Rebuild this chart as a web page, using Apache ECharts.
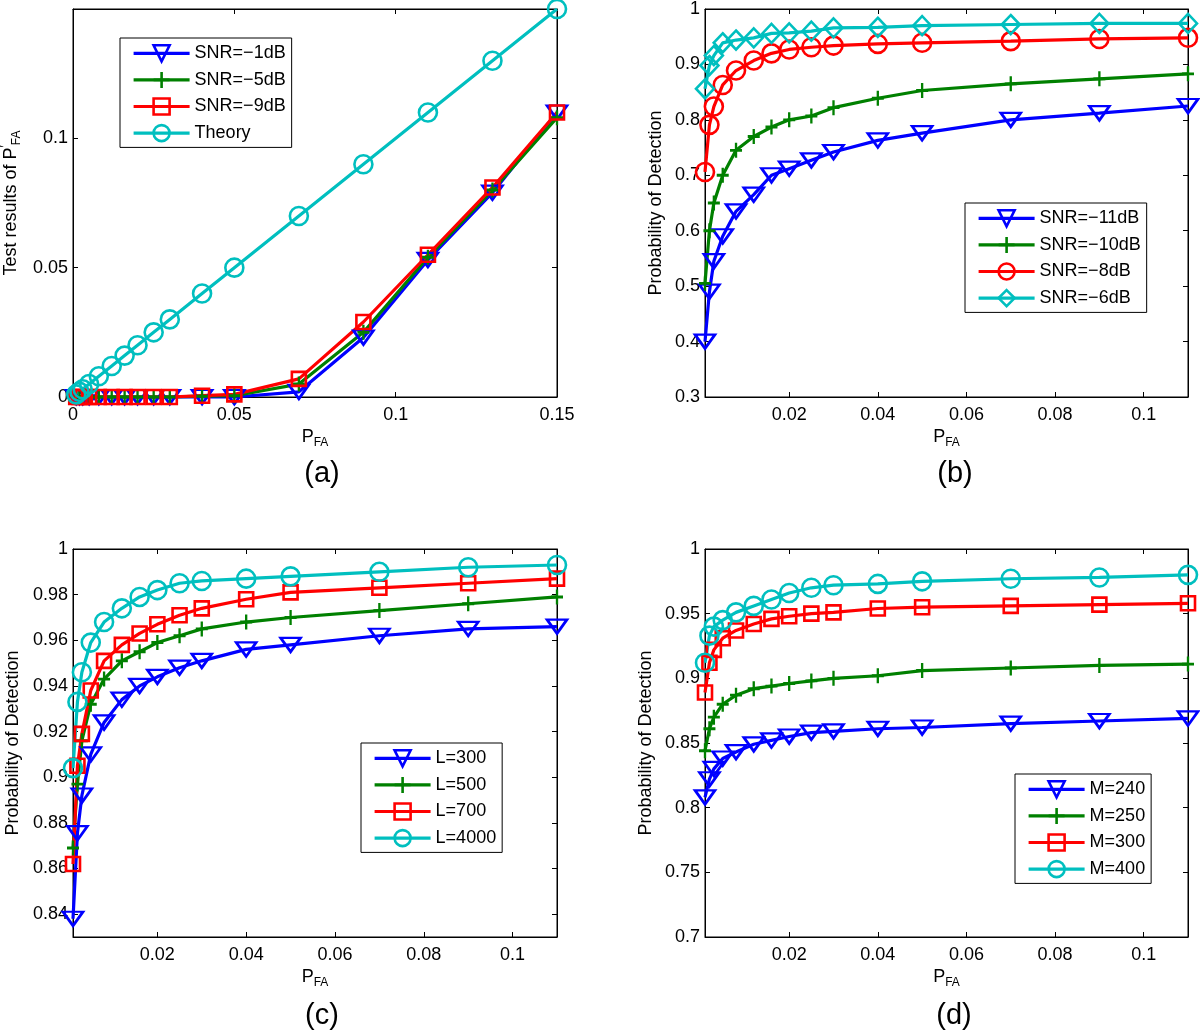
<!DOCTYPE html>
<html>
<head>
<meta charset="utf-8">
<title>PFA / Detection</title>
<script src="https://cdn.jsdelivr.net/npm/echarts@6/dist/echarts.min.js"></script>
<style>
    html, body { margin: 0; padding: 0; background: #fff; }
    #main { width: 1200px; height: 1034px; }
</style>
</head>
<body>
<div id="main"></div>
<script type="text/javascript">
    // 数据
    var pfaA = [0.001, 0.002, 0.003, 0.005, 0.008, 0.012, 0.016, 0.02, 0.025, 0.03, 0.04, 0.05, 0.07, 0.09, 0.11, 0.13, 0.15];
    var snr1A = [0, 0, 0, 0, 0, 0, 0, 0, 0, 0, 0, 0, 0.002, 0.023, 0.053, 0.079, 0.110];
    var snr5A = [0, 0, 0, 0, 0, 0, 0, 0, 0, 0, 0.0003, 0.0005, 0.005, 0.025, 0.054, 0.080, 0.108];
    var snr9A = [0, 0, 0, 0, 0, 0, 0, 0, 0, 0, 0.0005, 0.001, 0.007, 0.029, 0.055, 0.081, 0.110];
    var theoryA = [0.001, 0.002, 0.003, 0.005, 0.008, 0.012, 0.016, 0.02, 0.025, 0.03, 0.04, 0.05, 0.07, 0.09, 0.11, 0.13, 0.15];

    var pfa = [0.001, 0.002, 0.003, 0.005, 0.008, 0.012, 0.016, 0.02, 0.025, 0.03, 0.04, 0.05, 0.07, 0.09, 0.11];

    var snr11B = [0.40, 0.49, 0.545, 0.59, 0.635, 0.665, 0.70, 0.712, 0.727, 0.742, 0.763, 0.776, 0.80, 0.812, 0.825];
    var snr10B = [0.505, 0.60, 0.65, 0.70, 0.745, 0.77, 0.787, 0.80, 0.807, 0.822, 0.839, 0.853, 0.865, 0.874, 0.883];
    var snr8B = [0.706, 0.791, 0.824, 0.863, 0.889, 0.907, 0.92, 0.927, 0.931, 0.934, 0.937, 0.939, 0.942, 0.946, 0.948];
    var snr6B = [0.856, 0.898, 0.916, 0.939, 0.944, 0.948, 0.956, 0.957, 0.960, 0.966, 0.967, 0.970, 0.972, 0.974, 0.974];

    var l300C = [0.838, 0.8755, 0.892, 0.910, 0.924, 0.934, 0.940, 0.944, 0.948, 0.951, 0.956, 0.958, 0.962, 0.965, 0.966];
    var l500C = [0.869, 0.897, 0.916, 0.932, 0.943, 0.951, 0.955, 0.959, 0.962, 0.965, 0.968, 0.970, 0.973, 0.976, 0.979];
    var l700C = [0.862, 0.905, 0.919, 0.938, 0.951, 0.958, 0.963, 0.967, 0.971, 0.974, 0.978, 0.981, 0.983, 0.985, 0.987];
    var l4000C = [0.904, 0.933, 0.946, 0.959, 0.968, 0.974, 0.979, 0.982, 0.985, 0.986, 0.987, 0.988, 0.990, 0.992, 0.993];

    var m240D = [0.808, 0.822, 0.830, 0.838, 0.843, 0.849, 0.852, 0.855, 0.858, 0.859, 0.861, 0.862, 0.865, 0.867, 0.869];
    var m250D = [0.844, 0.861, 0.870, 0.880, 0.887, 0.892, 0.894, 0.896, 0.898, 0.900, 0.902, 0.906, 0.908, 0.910, 0.911];
    var m300D = [0.889, 0.912, 0.922, 0.931, 0.937, 0.942, 0.946, 0.948, 0.950, 0.951, 0.954, 0.955, 0.956, 0.957, 0.958];
    var m400D = [0.912, 0.933, 0.940, 0.945, 0.951, 0.956, 0.961, 0.966, 0.970, 0.972, 0.973, 0.975, 0.977, 0.978, 0.980];

    // 刻度
    var xTicksA = [0, 0.05, 0.1, 0.15];
    var yTicksA = [0, 0.05, 0.1, 0.15];
    var yLabelsA = [0, 0.05, 0.1];
    var xTicks = [0.02, 0.04, 0.06, 0.08, 0.1];
    var yTicksB = [0.3, 0.4, 0.5, 0.6, 0.7, 0.8, 0.9, 1];
    var yTicksC = [0.84, 0.86, 0.88, 0.9, 0.92, 0.94, 0.96, 0.98, 1];
    var yTicksD = [0.7, 0.75, 0.8, 0.85, 0.9, 0.95, 1];

    var FONT = 'Liberation Sans';
    var C_BLUE = '#0000FF', C_GREEN = '#008000', C_RED = '#FF0000', C_CYAN = '#00BFBF';

    var markers = {
        tri: { symbol: 'triangle', symbolRotate: 180, symbolSize: [20, 14] },
        plus: { symbol: 'path://M5,0L5,10M0,5L10,5', symbolSize: [12, 15] },
        square: { symbol: 'rect', symbolSize: 14 },
        circle: { symbol: 'circle', symbolSize: 18 },
        diamond: { symbol: 'diamond', symbolSize: [18, 19] }
    };

    var myChart = echarts.init(document.getElementById('main'));

    function pairs(xs, ys) {
        return xs.map(function (x, i) { return [x, ys[i]]; });
    }

    function line(name, xs, ys, color, mk, gi) {
        var m = markers[mk];
        return {
            name: name,
            type: 'line',
            xAxisIndex: gi * 2,
            yAxisIndex: gi * 2,
            data: pairs(xs, ys),
            symbol: m.symbol,
            symbolSize: m.symbolSize,
            symbolRotate: m.symbolRotate || 0,
            showAllSymbol: true,
            clip: false,
            lineStyle: { color: color, width: 3.2 },
            itemStyle: { color: 'rgba(0,0,0,0)', borderColor: color, borderWidth: 2.6 },
            emphasis: { disabled: true },
            animation: false
        };
    }

    function xAxes(gi, min, max, ticks, labels) {
        var base = {
            type: 'value', gridIndex: gi, min: min, max: max,
            axisLine: { show: true, onZero: false, lineStyle: { color: '#000', width: 1 } },
            axisTick: { show: true, inside: true, length: 5, customValues: ticks, lineStyle: { color: '#000' } },
            splitLine: { show: false }
        };
        var bottom = echarts.util.merge({
            position: 'bottom',
            axisLabel: { customValues: labels, margin: 9, color: '#000', fontSize: 18, fontFamily: FONT },
            name: '{p|P}{s|FA}', nameLocation: 'middle', nameGap: 28,
            nameTextStyle: {
                color: '#000', fontFamily: FONT,
                rich: { p: { fontSize: 18, fontFamily: FONT, color: '#000' }, s: { fontSize: 12, fontFamily: FONT, color: '#000', padding: [12, 0, 0, 0] } }
            }
        }, base, true);
        var top = echarts.util.merge({ position: 'top', axisLabel: { show: false } }, base, true);
        return [bottom, top];
    }

    function yAxes(gi, min, max, ticks, labels, name, gap) {
        var base = {
            type: 'value', gridIndex: gi, min: min, max: max,
            axisLine: { show: true, onZero: false, lineStyle: { color: '#000', width: 1 } },
            axisTick: { show: true, inside: true, length: 5, customValues: ticks, lineStyle: { color: '#000' } },
            splitLine: { show: false }
        };
        var left = echarts.util.merge({
            position: 'left',
            axisLabel: { customValues: labels, margin: 5, color: '#000', fontSize: 18, fontFamily: FONT },
            name: name, nameLocation: 'middle', nameGap: gap, nameRotate: 90,
            nameTextStyle: {
                color: '#000', fontSize: 18, fontFamily: FONT,
                rich: {
                    t: { fontSize: 18, fontFamily: FONT, color: '#000' },
                    sp: { fontSize: 12, fontFamily: FONT, color: '#000', padding: [0, 0, 10, 0] },
                    s: { fontSize: 12, fontFamily: FONT, color: '#000', padding: [12, 0, 0, 0] }
                }
            }
        }, base, true);
        var right = echarts.util.merge({ position: 'right', axisLabel: { show: false } }, base, true);
        return [left, right];
    }

    function legend(names, left, top) {
        return {
            data: names, orient: 'vertical', left: left, top: top,
            backgroundColor: '#fff', borderColor: '#000', borderWidth: 1,
            padding: [6, 6, 5, 12], itemGap: 8, itemWidth: 56, itemHeight: 20,
            selectedMode: false,
            lineStyle: { width: 3.2 },
            itemStyle: { borderWidth: 2.6 },
            textStyle: { color: '#000', fontSize: 18, fontFamily: FONT }
        };
    }

    var grids = [
        { left: 73, top: 9, width: 484, height: 388 },
        { left: 705, top: 9, width: 483, height: 388 },
        { left: 73, top: 549, width: 484, height: 388 },
        { left: 705, top: 549, width: 483, height: 388 }
    ].map(function (g) {
        g.show = true; g.borderColor = '#000'; g.borderWidth = 1; g.backgroundColor = '#fff';
        g.containLabel = false; g.outerBoundsMode = 'none';
        return g;
    });

    var namesA = ['SNR=\u22121dB', 'SNR=\u22125dB', 'SNR=\u22129dB', 'Theory'];
    var namesB = ['SNR=\u221211dB', 'SNR=\u221210dB', 'SNR=\u22128dB', 'SNR=\u22126dB'];
    var namesC = ['L=300', 'L=500', 'L=700', 'L=4000'];
    var namesD = ['M=240', 'M=250', 'M=300', 'M=400'];

    var pod = 'Probability of Detection';

    option = {
        backgroundColor: '#fff',
        animation: false,
        grid: grids,
        xAxis: [].concat(
            xAxes(0, 0, 0.15, xTicksA, xTicksA),
            xAxes(1, 0.001, 0.11, xTicks, xTicks),
            xAxes(2, 0.001, 0.11, xTicks, xTicks),
            xAxes(3, 0.001, 0.11, xTicks, xTicks)
        ),
        yAxis: [].concat(
            yAxes(0, 0, 0.15, yTicksA, yLabelsA, '{t|Test results of P}{sp|\u2032}{s|FA}', 50),
            yAxes(1, 0.3, 1, yTicksB, yTicksB, pod, 40),
            yAxes(2, 0.83, 1, yTicksC, yTicksC, pod, 51),
            yAxes(3, 0.7, 1, yTicksD, yTicksD, pod, 50)
        ),
        legend: [
            legend(namesA, 120, 38),
            legend(namesB, 965, 203),
            legend(namesC, 361, 743),
            legend(namesD, 1015, 774)
        ],
        graphic: [
            { type: 'text', x: 322, y: 474, style: { text: '(a)', fill: '#000', font: '29px "Liberation Sans"', textAlign: 'center', textVerticalAlign: 'middle' } },
            { type: 'text', x: 955, y: 474, style: { text: '(b)', fill: '#000', font: '29px "Liberation Sans"', textAlign: 'center', textVerticalAlign: 'middle' } },
            { type: 'text', x: 322, y: 1016, style: { text: '(c)', fill: '#000', font: '29px "Liberation Sans"', textAlign: 'center', textVerticalAlign: 'middle' } },
            { type: 'text', x: 954, y: 1016, style: { text: '(d)', fill: '#000', font: '29px "Liberation Sans"', textAlign: 'center', textVerticalAlign: 'middle' } }
        ],
        series: [
            line(namesA[0], pfaA, snr1A, C_BLUE, 'tri', 0),
            line(namesA[1], pfaA, snr5A, C_GREEN, 'plus', 0),
            line(namesA[2], pfaA, snr9A, C_RED, 'square', 0),
            line(namesA[3], pfaA, theoryA, C_CYAN, 'circle', 0),

            line(namesB[0], pfa, snr11B, C_BLUE, 'tri', 1),
            line(namesB[1], pfa, snr10B, C_GREEN, 'plus', 1),
            line(namesB[2], pfa, snr8B, C_RED, 'circle', 1),
            line(namesB[3], pfa, snr6B, C_CYAN, 'diamond', 1),

            line(namesC[0], pfa, l300C, C_BLUE, 'tri', 2),
            line(namesC[1], pfa, l500C, C_GREEN, 'plus', 2),
            line(namesC[2], pfa, l700C, C_RED, 'square', 2),
            line(namesC[3], pfa, l4000C, C_CYAN, 'circle', 2),

            line(namesD[0], pfa, m240D, C_BLUE, 'tri', 3),
            line(namesD[1], pfa, m250D, C_GREEN, 'plus', 3),
            line(namesD[2], pfa, m300D, C_RED, 'square', 3),
            line(namesD[3], pfa, m400D, C_CYAN, 'circle', 3)
        ]
    };

    myChart.setOption(option);
</script>
</body>
</html>
